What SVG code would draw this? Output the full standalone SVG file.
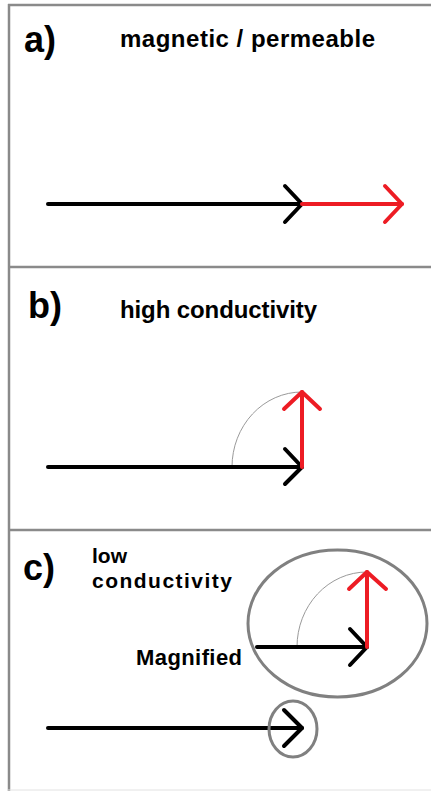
<svg xmlns="http://www.w3.org/2000/svg" width="431" height="791" viewBox="0 0 431 791">
<style>
.frame{stroke:#8a8a8a;stroke-width:2.5;fill:none}
.blk{stroke:#000;stroke-width:4;fill:none;stroke-linecap:round;stroke-linejoin:round}
.red{stroke:#ed1c24;stroke-width:4;fill:none;stroke-linecap:round;stroke-linejoin:round}
.arc{stroke:#9a9a9a;stroke-width:1;fill:none}
.ell{stroke:#808080;stroke-width:3;fill:none}
.lab{font-family:"Liberation Sans",Arial,sans-serif;font-weight:bold;font-size:36px;fill:#000}
.txt{font-family:"Liberation Sans",Arial,sans-serif;font-weight:bold;font-size:24px;fill:#000}
.sm{font-size:22px}
.xs{font-size:21px}
</style>
<rect width="431" height="791" fill="#fff"/>
<g id="frame">
<line class="frame" x1="8" y1="5" x2="431" y2="5"/>
<line class="frame" x1="9" y1="4" x2="9" y2="791"/>
<line class="frame" x1="8" y1="267" x2="431" y2="267"/>
<line class="frame" x1="8" y1="530" x2="431" y2="530"/>
<line x1="8" y1="790" x2="431" y2="790" stroke="#e2e2e2" stroke-width="1"/>
</g>
<g id="panel-a">
<text class="lab" x="24" y="52">a)</text>
<text class="txt" x="120" y="47" textLength="255" lengthAdjust="spacing">magnetic / permeable</text>
</g>
<g id="panel-b">
<text class="lab" x="28" y="318">b)</text>
<text class="txt" x="120" y="318" textLength="197" lengthAdjust="spacing">high conductivity</text>
</g>
<g id="panel-c">
<text class="lab" x="23" y="580">c)</text>
<text class="txt xs" x="92" y="563">low</text>
<text class="txt xs" x="92" y="588" textLength="140" lengthAdjust="spacing">conductivity</text>
<text class="txt sm" x="136" y="665" textLength="106" lengthAdjust="spacing">Magnified</text>
</g>
<g id="connectors">
<line class="blk" x1="48" y1="204" x2="302" y2="204"/>
<polyline class="blk" points="285,186 302,204 285,222"/>
<line class="red" x1="302" y1="204" x2="402" y2="204"/>
<polyline class="red" points="385,186 402,204 385,222"/>
<path class="arc" d="M232,467 A70,75 0 0 1 302,392"/>
<line class="blk" x1="48" y1="467" x2="302" y2="467"/>
<polyline class="blk" points="285,449 302,467 285,484"/>
<line class="red" x1="302" y1="467" x2="302" y2="392"/>
<polyline class="red" points="284,409 302,392 320,409"/>
<ellipse class="ell" cx="337.5" cy="623.5" rx="89.5" ry="73.5"/>
<path class="arc" d="M297,647 A70,75 0 0 1 367,572"/>
<line class="blk" x1="257" y1="647" x2="367" y2="647"/>
<polyline class="blk" points="350,629 367,647 350,665"/>
<line class="red" x1="367" y1="647" x2="367" y2="572"/>
<polyline class="red" points="349,589 367,572 386,589"/>
<line class="blk" x1="48" y1="728" x2="302" y2="728"/>
<polyline class="blk" points="284,710 302,728 284,746"/>
<ellipse class="ell" cx="293" cy="729" rx="24" ry="28"/>
</g>
</svg>
